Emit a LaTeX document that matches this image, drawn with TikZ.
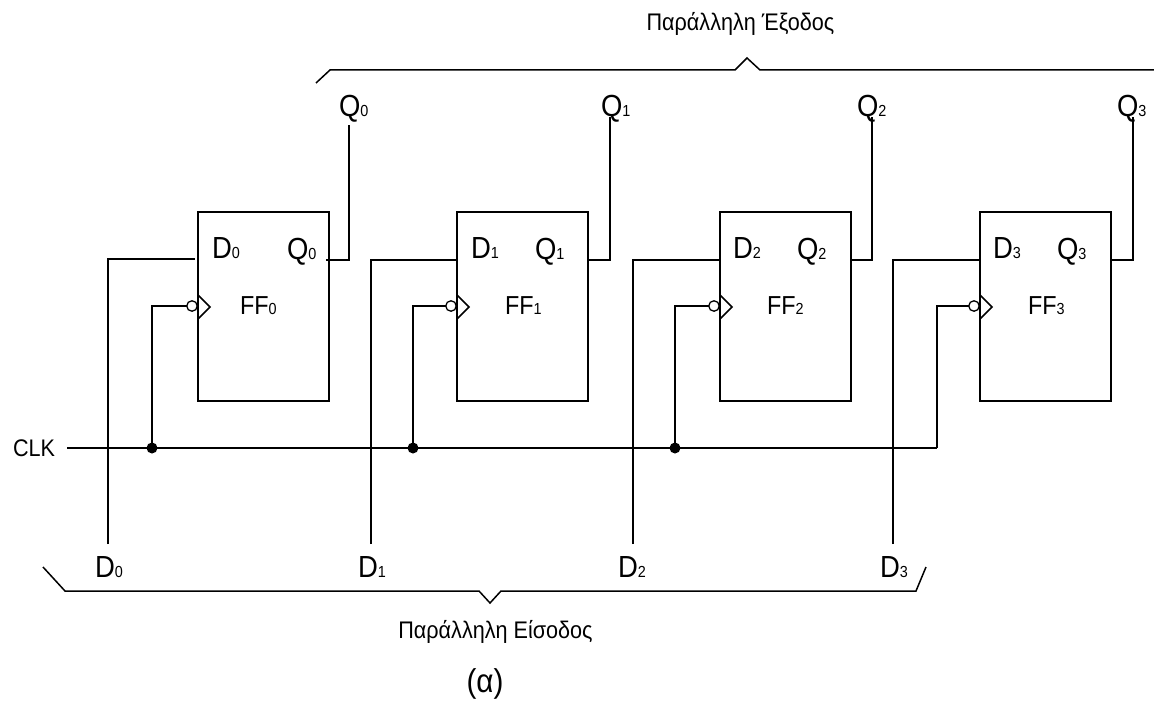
\documentclass[tikz,border=0pt]{standalone}
\usepackage{fontspec}
\setmainfont{Liberation Sans}
\newfontfamily\narrowfont[FakeStretch=0.9]{Liberation Sans}
\newcommand{\lab}[2]{{\narrowfont\fontsize{30.5}{30.5}\selectfont #1}{\narrowfont\fontsize{16}{16}\selectfont #2}}
\newcommand{\lbb}[2]{{\narrowfont\fontsize{26}{26}\selectfont #1}{\narrowfont\fontsize{16}{16}\selectfont #2}}
\tikzset{
  wire/.style={line width=1.5pt, line join=miter},
  ffbox/.style={draw, line width=1.5pt, minimum width=131pt, minimum height=189pt, inner sep=0pt, outer sep=0pt, fill=none},
  bubble/.style={circle, draw, line width=1.3pt, minimum size=10.5pt, inner sep=0pt, outer sep=0pt, fill=white},
  junction/.style={circle, fill=black, minimum size=11pt, inner sep=0pt, outer sep=0pt},
  lbl/.style={anchor=base west, inner sep=0pt, outer sep=0pt},
  captext/.style={anchor=base, inner sep=0pt, outer sep=0pt}
}
\begin{document}
\begin{tikzpicture}[x=1pt,y=-1pt]
\useasboundingbox (0,0) rectangle (1154,701);
\foreach \i/\bx/\dl/\dy/\ql/\dt/\dlx/\qlx/\flx/\tdx/\tqx/\dend/\qstart/\qtop in
 {0/198/108/259/349/152/212/287/240/95/339/195/326/125,
  1/457/371/260/610/413/471/535/505/358/601/457/589/117,
  2/720/633/260/872/675/733/797/767/618/857/720/851/117,
  3/980/893/260/1133/937/993/1057/1028/880/1117/980/1111/117}{
  \node[ffbox] (ff\i) at ({\bx+65.5},306.5) {};
  \node[bubble] (bub\i) at ({\bx-6},306) {};
  \draw[wire] ({\bx},295) coordinate (ta\i) -- ({\bx+12},307) coordinate (tb\i) -- ({\bx},319) coordinate (tc\i);
  \coordinate (din\i) at (\dl,544);
  \coordinate (dpin\i) at (\dend,\dy);
  \draw[wire] (din\i) |- (dpin\i);
  \coordinate (qpin\i) at (\qstart,260);
  \coordinate (qout\i) at (\ql,\qtop);
  \draw[wire] (qpin\i) -| (qout\i);
  \coordinate (tap\i) at (\dt,448);
  \draw[wire] (tap\i) |- (bub\i.west);
  \node[lbl] (dl\i) at (\dlx,258) {\lab{D}{\i}};
  \node[lbl] (ql\i) at (\qlx,259) {\lab{Q}{\i}};
  \node[lbl] (fl\i) at (\flx,314.5) {\lbb{FF}{\i}};
  \node[lbl] (td\i) at (\tdx,577) {\lab{D}{\i}};
  \node[lbl] (tq\i) at (\tqx,116.5) {\lab{Q}{\i}};
}
\node[lbl] (clk) at (13,456) {\narrowfont\fontsize{24}{24}\selectfont CLK};
\coordinate (clkin) at (67,448);
\draw[wire] (clkin) -- (tap3);
\foreach \i in {0,1,2}{ \node[junction] (dot\i) at (tap\i) {}; }
% braces
\coordinate (ob1) at (316,83); \coordinate (ob2) at (330,70); \coordinate (ob3) at (735,70);
\coordinate (ob4) at (747,58); \coordinate (ob5) at (760,70); \coordinate (ob6) at (1154,70);
\draw[wire] (ob1) -- (ob2) -- (ob3) -- (ob4) -- (ob5) -- (ob6);
\coordinate (ib1) at (43,567); \coordinate (ib2) at (65,591); \coordinate (ib3) at (479,591);
\coordinate (ib4) at (490,603); \coordinate (ib5) at (501,591); \coordinate (ib6) at (916,591); \coordinate (ib7) at (926,567);
\draw[wire] (ib1) -- (ib2) -- (ib3) -- (ib4) -- (ib5) -- (ib6) -- (ib7);
\node[captext] (outcap) at (740.5,30.5) {\narrowfont\fontsize{24}{24}\selectfont Παράλληλη Έξοδος};
\node[captext] (incap) at (495.5,638) {\narrowfont\fontsize{24}{24}\selectfont Παράλληλη Είσοδος};
\node[captext] (alpha) at (485,692) {\narrowfont\fontsize{33}{33}\selectfont (α)};
\end{tikzpicture}
\end{document}
